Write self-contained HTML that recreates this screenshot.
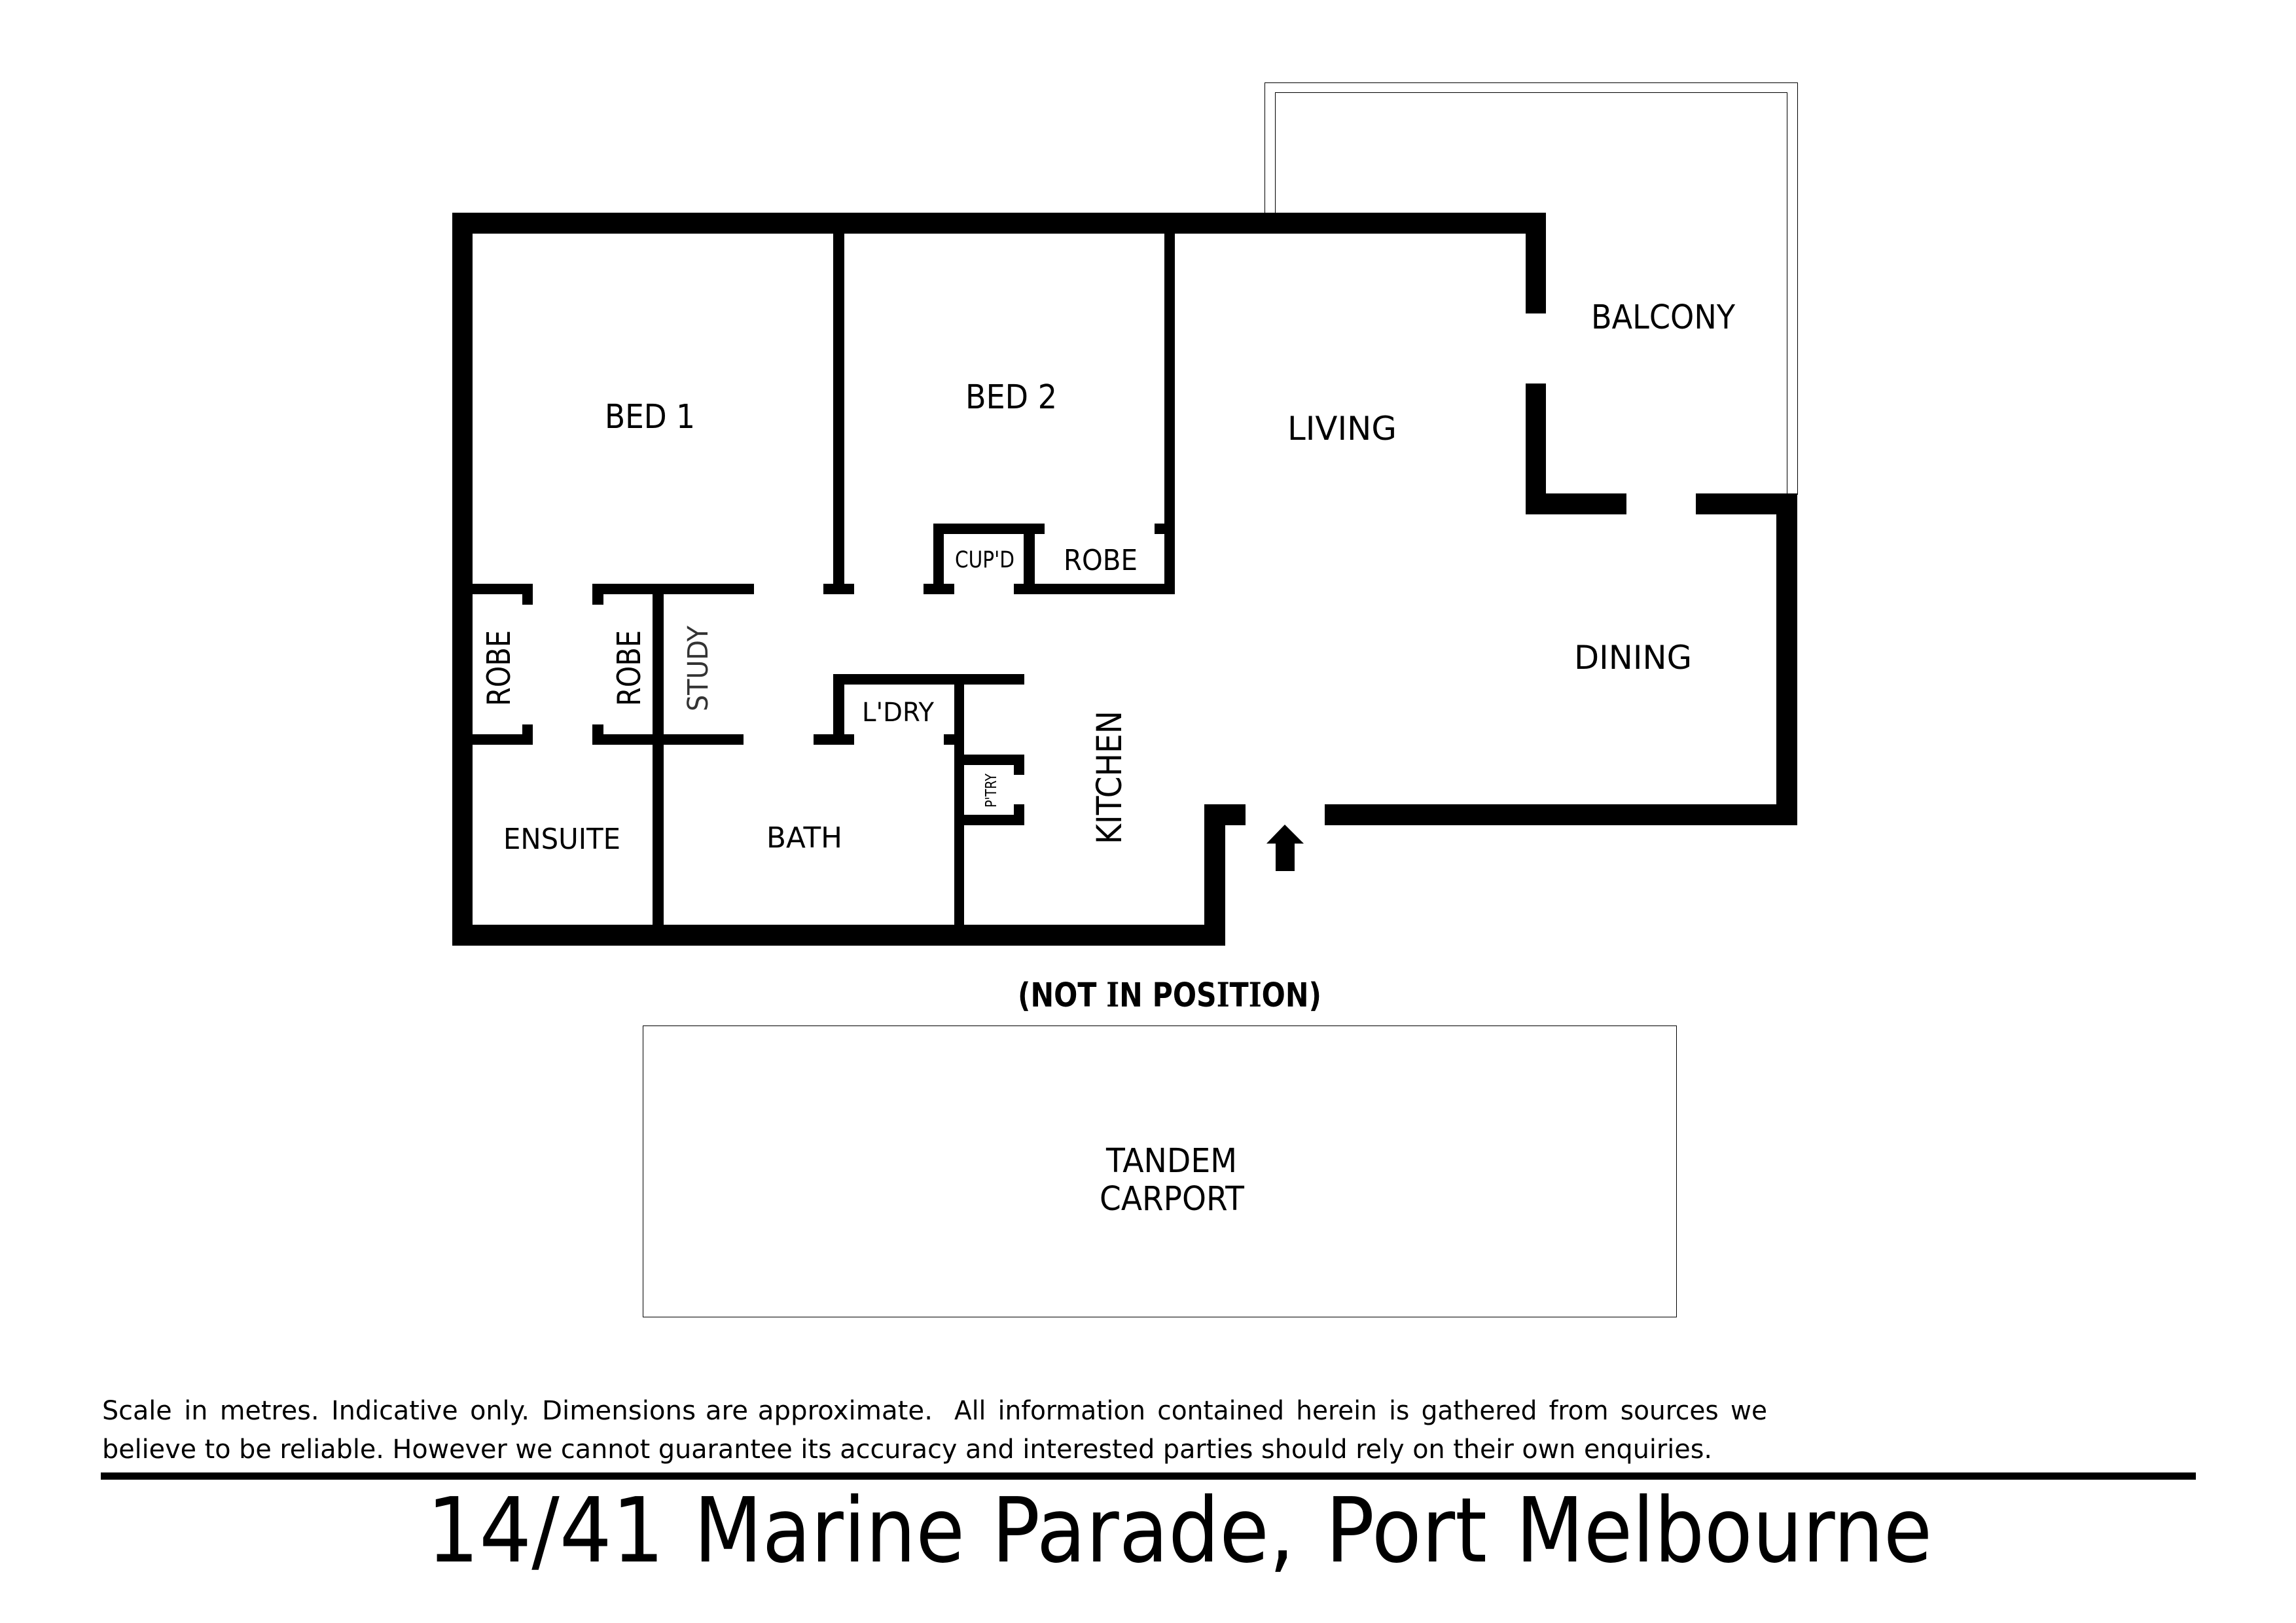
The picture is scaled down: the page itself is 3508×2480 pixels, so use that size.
<!DOCTYPE html>
<html lang="en"><head><meta charset="utf-8"><title>14/41 Marine Parade, Port Melbourne</title>
<style>
html,body{margin:0;padding:0;background:#fff;width:3508px;height:2480px;overflow:hidden}
svg{display:block}
text{font-family:"DejaVu Sans","Liberation Sans",sans-serif;fill:#000}
</style></head><body>
<svg xmlns="http://www.w3.org/2000/svg" width="3508" height="2480" viewBox="0 0 3508 2480">
<rect width="3508" height="2480" fill="#fff"/>
<g fill="#000" shape-rendering="crispEdges">
<!-- balcony lines -->
<rect x="1932" y="126" width="815" height="1"/><rect x="1932" y="126" width="1" height="200"/><rect x="2746" y="126" width="1" height="630"/>
<rect x="1948" y="141" width="783" height="1"/><rect x="1948" y="141" width="1" height="185"/><rect x="2730" y="141" width="1" height="615"/>
<!-- carport -->
<rect x="982" y="1567" width="1580" height="1"/><rect x="982" y="2012" width="1580" height="1"/><rect x="982" y="1567" width="1" height="446"/><rect x="2561" y="1567" width="1" height="446"/>
<!-- outer walls -->
<rect x="691" y="325" width="1671" height="32"/>
<rect x="691" y="325" width="31" height="1120"/>
<rect x="691" y="1413" width="1181" height="32"/>
<rect x="1840" y="1229" width="32" height="216"/>
<rect x="1840" y="1229" width="63" height="32"/>
<rect x="2024" y="1229" width="722" height="32"/>
<rect x="2714" y="754" width="32" height="507"/>
<rect x="2591" y="754" width="155" height="32"/>
<rect x="2331" y="754" width="154" height="32"/>
<rect x="2331" y="586" width="31" height="200"/>
<rect x="2331" y="325" width="31" height="154"/>
<!-- bed divider -->
<rect x="1273" y="357" width="17" height="550"/>
<rect x="1258" y="892" width="47" height="16"/>
<!-- bed 2 right / robe -->
<rect x="1779" y="357" width="16" height="551"/>
<rect x="1549" y="892" width="246" height="16"/>
<rect x="1764" y="800" width="15" height="16"/>
<!-- cupboard -->
<rect x="1426" y="800" width="170" height="16"/>
<rect x="1426" y="800" width="16" height="108"/>
<rect x="1411" y="892" width="47" height="16"/>
<rect x="1564" y="800" width="17" height="108"/>
<!-- robes upper -->
<rect x="722" y="892" width="92" height="16"/>
<rect x="798" y="892" width="16" height="32"/>
<rect x="905" y="892" width="247" height="16"/>
<rect x="905" y="892" width="17" height="32"/>
<rect x="997" y="892" width="17" height="530"/>
<!-- robes lower -->
<rect x="722" y="1122" width="92" height="16"/>
<rect x="798" y="1107" width="16" height="31"/>
<rect x="905" y="1122" width="231" height="16"/>
<rect x="905" y="1107" width="17" height="31"/>
<!-- laundry -->
<rect x="1273" y="1030" width="292" height="16"/>
<rect x="1273" y="1030" width="17" height="108"/>
<rect x="1243" y="1122" width="62" height="16"/>
<rect x="1458" y="1030" width="15" height="390"/>
<rect x="1442" y="1122" width="16" height="16"/>
<!-- pantry -->
<rect x="1473" y="1153" width="92" height="16"/>
<rect x="1549" y="1153" width="16" height="31"/>
<rect x="1473" y="1245" width="92" height="16"/>
<rect x="1549" y="1229" width="16" height="32"/>
<!-- footer rule -->
<rect x="154" y="2250" width="3201" height="11"/>
</g>
<!-- arrow -->
<polygon points="1963,1260 1992,1289 1978,1289 1978,1331 1949,1331 1949,1289 1935,1289" fill="#000"/>
<!-- labels -->
<text x="924" y="654" font-size="51" textLength="138" lengthAdjust="spacingAndGlyphs">BED 1</text>
<text x="1475" y="624" font-size="51" textLength="140" lengthAdjust="spacingAndGlyphs">BED 2</text>
<text x="1459" y="867" font-size="35" textLength="91" lengthAdjust="spacingAndGlyphs">CUP'D</text>
<text x="1625" y="871" font-size="44" textLength="113" lengthAdjust="spacingAndGlyphs">ROBE</text>
<text x="1967" y="672" font-size="50" textLength="167" lengthAdjust="spacingAndGlyphs">LIVING</text>
<text x="2431" y="502" font-size="51" textLength="220" lengthAdjust="spacingAndGlyphs">BALCONY</text>
<text x="2405" y="1022" font-size="50" textLength="180" lengthAdjust="spacingAndGlyphs">DINING</text>
<text x="1317" y="1102" font-size="40" textLength="110" lengthAdjust="spacingAndGlyphs">L'DRY</text>
<text x="769" y="1297" font-size="44" textLength="179" lengthAdjust="spacingAndGlyphs">ENSUITE</text>
<text x="1171" y="1295" font-size="44" textLength="116" lengthAdjust="spacingAndGlyphs">BATH</text>
<text transform="translate(779,1079) rotate(-90)" font-size="49" textLength="116" lengthAdjust="spacingAndGlyphs">ROBE</text>
<text transform="translate(978,1079) rotate(-90)" font-size="49" textLength="116" lengthAdjust="spacingAndGlyphs">ROBE</text>
<text transform="translate(1081,1087) rotate(-90)" font-size="43" textLength="131" lengthAdjust="spacingAndGlyphs" style="fill:#333">STUDY</text>
<text transform="translate(1522,1234) rotate(-90)" font-size="23" textLength="52" lengthAdjust="spacingAndGlyphs">P'TRY</text>
<text transform="translate(1713,1290) rotate(-90)" font-size="53" textLength="204" lengthAdjust="spacingAndGlyphs">KITCHEN</text>
<text x="1555" y="1538" font-size="51" font-weight="700" textLength="464" lengthAdjust="spacingAndGlyphs">(NOT <tspan font-family="DejaVu Serif">I</tspan>N POS<tspan font-family="DejaVu Serif">I</tspan>T<tspan font-family="DejaVu Serif">I</tspan>ON)</text>
<text x="1690" y="1791" font-size="51" textLength="200" lengthAdjust="spacingAndGlyphs">TANDEM</text>
<text x="1680" y="1849" font-size="51" textLength="221" lengthAdjust="spacingAndGlyphs">CARPORT</text>
<!-- footer -->
<text x="156" y="2169" font-size="40" textLength="653" lengthAdjust="spacingAndGlyphs" word-spacing="6">Scale in metres. Indicative only.</text>
<text x="828" y="2169" font-size="40" textLength="597" lengthAdjust="spacingAndGlyphs" word-spacing="2">Dimensions are approximate.</text>
<text x="1458" y="2169" font-size="40" textLength="1242" lengthAdjust="spacingAndGlyphs" word-spacing="6">All information contained herein is gathered from sources we</text>
<text x="156" y="2228" font-size="40" textLength="2460" lengthAdjust="spacingAndGlyphs">believe to be reliable. However we cannot guarantee its accuracy and interested parties should rely on their own enquiries.</text>
<!-- title, word by word -->
<text x="652" y="2386" font-size="137" textLength="363" lengthAdjust="spacingAndGlyphs">14/41</text>
<text x="1060" y="2386" font-size="137" textLength="414" lengthAdjust="spacingAndGlyphs">Marine</text>
<text x="1515" y="2386" font-size="137" textLength="463" lengthAdjust="spacingAndGlyphs">Parade,</text>
<text x="2025" y="2386" font-size="137" textLength="247" lengthAdjust="spacingAndGlyphs">Port</text>
<text x="2316" y="2386" font-size="137" textLength="636" lengthAdjust="spacingAndGlyphs">Melbourne</text>
</svg>
</body></html>
